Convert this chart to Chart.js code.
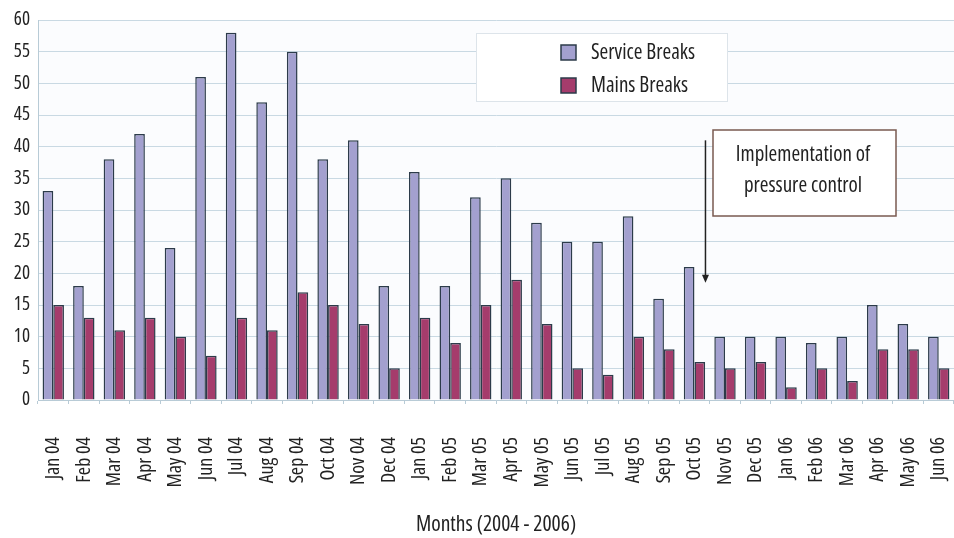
<!DOCTYPE html>
<html>
<head>
<meta charset="utf-8">
<script src="https://cdn.jsdelivr.net/npm/chart.js@4"></script>
<style>
  html, body { margin: 0; padding: 0; background: #ffffff; }
  #wrap { width: 954px; height: 538px; }
</style>
</head>
<body>
<div id="wrap"><canvas id="breaksChart" width="954" height="538"></canvas></div>
<script>
var months = ['Jan 04','Feb 04','Mar 04','Apr 04','May 04','Jun 04','Jul 04','Aug 04','Sep 04','Oct 04','Nov 04','Dec 04',
              'Jan 05','Feb 05','Mar 05','Apr 05','May 05','Jun 05','Jul 05','Aug 05','Sep 05','Oct 05','Nov 05','Dec 05',
              'Jan 06','Feb 06','Mar 06','Apr 06','May 06','Jun 06'];
var serviceBreaks = [33,18,38,42,24,51,58,47,55,38,41,18,36,18,32,35,28,25,25,29,16,21,10,10,10,9,10,15,12,10];
var mainsBreaks = [15,13,11,13,10,7,13,11,17,15,12,5,13,9,15,19,12,5,4,10,8,6,5,6,2,5,3,8,8,5];
var yTicks = [0,5,10,15,20,25,30,35,40,45,50,55,60];

// pick the narrowest font available (original uses a condensed face)
var measure = document.createElement('canvas').getContext('2d');
var candidates = [
    { stretch: '', family: "'Liberation Sans Narrow'" },
    { stretch: 'condensed', family: "'Open Sans'" },
    { stretch: 'condensed', family: "'Noto Sans'" },
    { stretch: 'condensed', family: "'DejaVu Sans'" },
    { stretch: '', family: "'DejaVu Sans Condensed'" },
    { stretch: '', family: "Roboto" }
];
function fontFor(f, size) {
    return (f.stretch ? f.stretch + ' ' : '') + size + 'px ' + f.family + ', sans-serif';
}
function widthAt(f, size, text) {
    measure.font = fontFor(f, size);
    return measure.measureText(text).width;
}
var narrow = candidates[0], best = 1e9;
candidates.forEach(function (f) {
    var w = widthAt(f, 20, 'Months (2004 - 2006)');
    if (w < best - 0.5) { best = w; narrow = f; }
});
function fitSize(text, target) {
    return Math.round(20 * target / widthAt(narrow, 20, text) * 2) / 2;
}
// Chart.js only validates "style", so the stretch keyword rides in "weight"
function chartFont(size) {
    return { family: narrow.family + ', sans-serif', weight: narrow.stretch || undefined, size: size };
}
var tickSize = fitSize('May 05', 51);
var ySize = Math.min(fitSize('60', 22), 19);
var titleSize = fitSize('Months (2004 - 2006)', 161);
var legendSize = fitSize('Service Breaks', 105);
var noteSize = fitSize('Implementation of', 135);

// legend box + annotation arrow drawn on top of the chart
var extras = {
    id: 'extras',
    afterDraw: function (chart) {
        var c = chart.ctx;
        var xs = chart.scales.x, ys = chart.scales.y;
        c.save();

        // legend
        c.fillStyle = '#ffffff';
        c.fillRect(476, 33, 251, 68);
        c.strokeStyle = '#dde4ea';
        c.lineWidth = 1;
        c.strokeRect(476.5, 33.5, 251, 68);
        chart.data.datasets.forEach(function (ds, i) {
            var y = 45 + i * 33;
            c.fillStyle = ds.backgroundColor;
            c.fillRect(561, y, 15, 15);
            c.strokeStyle = ds.borderColor;
            c.lineWidth = 1.5;
            c.strokeRect(561, y, 15, 15);
            c.fillStyle = '#222222';
            c.font = fontFor(narrow, legendSize);
            c.textBaseline = 'middle';
            c.textAlign = 'left';
            c.fillText(ds.label, 591, y + 8);
        });

        // arrow marking implementation
        var ax = xs.getPixelForValue(21) + 11;
        var top = ys.getPixelForValue(41);
        var tip = ys.getPixelForValue(18.5);
        c.strokeStyle = '#222222';
        c.lineWidth = 1.5;
        c.beginPath();
        c.moveTo(ax, top);
        c.lineTo(ax, tip - 6);
        c.stroke();
        c.fillStyle = '#222222';
        c.beginPath();
        c.moveTo(ax - 3.5, tip - 8);
        c.lineTo(ax + 3.5, tip - 8);
        c.lineTo(ax, tip);
        c.closePath();
        c.fill();

        // annotation box
        c.fillStyle = '#ffffff';
        c.fillRect(713, 130, 183, 86);
        c.strokeStyle = '#7a5a50';
        c.lineWidth = 1.5;
        c.strokeRect(713, 130, 183, 86);
        c.fillStyle = '#222222';
        c.font = fontFor(narrow, noteSize);
        c.textAlign = 'center';
        c.textBaseline = 'middle';
        c.fillText('Implementation of', 803, 155);
        c.fillText('pressure control', 803, 186);
        c.restore();
    }
};

var plotBg = {
    id: 'plotBg',
    beforeDraw: function (chart) {
        var a = chart.chartArea, c = chart.ctx;
        c.save();
        c.fillStyle = '#fbfcfe';
        c.fillRect(a.left, a.top, a.right - a.left, a.bottom - a.top);
        c.restore();
    }
};

var ctx = document.getElementById('breaksChart').getContext('2d');
var breaksChart = new Chart(ctx, {
    type: 'bar',
    data: {
        labels: months,
        datasets: [{
            label: 'Service Breaks',
            data: serviceBreaks,
            backgroundColor: '#a3a0cf',
            borderColor: '#2c3b4a',
            borderWidth: 1.5,
            borderSkipped: 'bottom'
        }, {
            label: 'Mains Breaks',
            data: mainsBreaks,
            backgroundColor: '#a53c6c',
            borderColor: '#2c3b4a',
            borderWidth: 1.5,
            borderSkipped: 'bottom'
        }]
    },
    options: {
        responsive: false,
        animation: false,
        categoryPercentage: 0.7,
        barPercentage: 1.0,
        layout: { padding: { top: 20, right: 0, left: 0, bottom: 0 } },
        plugins: {
            legend: { display: false },
            tooltip: { enabled: false }
        },
        scales: {
            y: {
                min: 0,
                max: 60,
                afterBuildTicks: function (axis) {
                    axis.ticks = yTicks.map(function (v) { return { value: v }; });
                },
                afterFit: function (axis) { axis.width = 38; },
                grid: { color: '#c9d9e3', lineWidth: 1, drawTicks: false },
                border: { color: '#b8cbd6' },
                ticks: {
                    color: '#222222',
                    padding: 8,
                    font: chartFont(ySize)
                }
            },
            x: {
                afterFit: function (axis) {
                    axis.height = 138;
                    axis.paddingLeft = 0;
                    axis.paddingRight = 0;
                },
                grid: { drawOnChartArea: false, color: '#b8cbd6', tickLength: 4 },
                border: { color: '#b8cbd6' },
                ticks: {
                    color: '#222222',
                    minRotation: 90,
                    maxRotation: 90,
                    autoSkip: false,
                    padding: 33,
                    font: chartFont(tickSize)
                },
                title: {
                    display: true,
                    text: 'Months (2004 - 2006)',
                    color: '#222222',
                    padding: { top: 0, bottom: 0 },
                    font: chartFont(titleSize)
                }
            }
        }
    },
    plugins: [plotBg, extras]
});
</script>
</body>
</html>
